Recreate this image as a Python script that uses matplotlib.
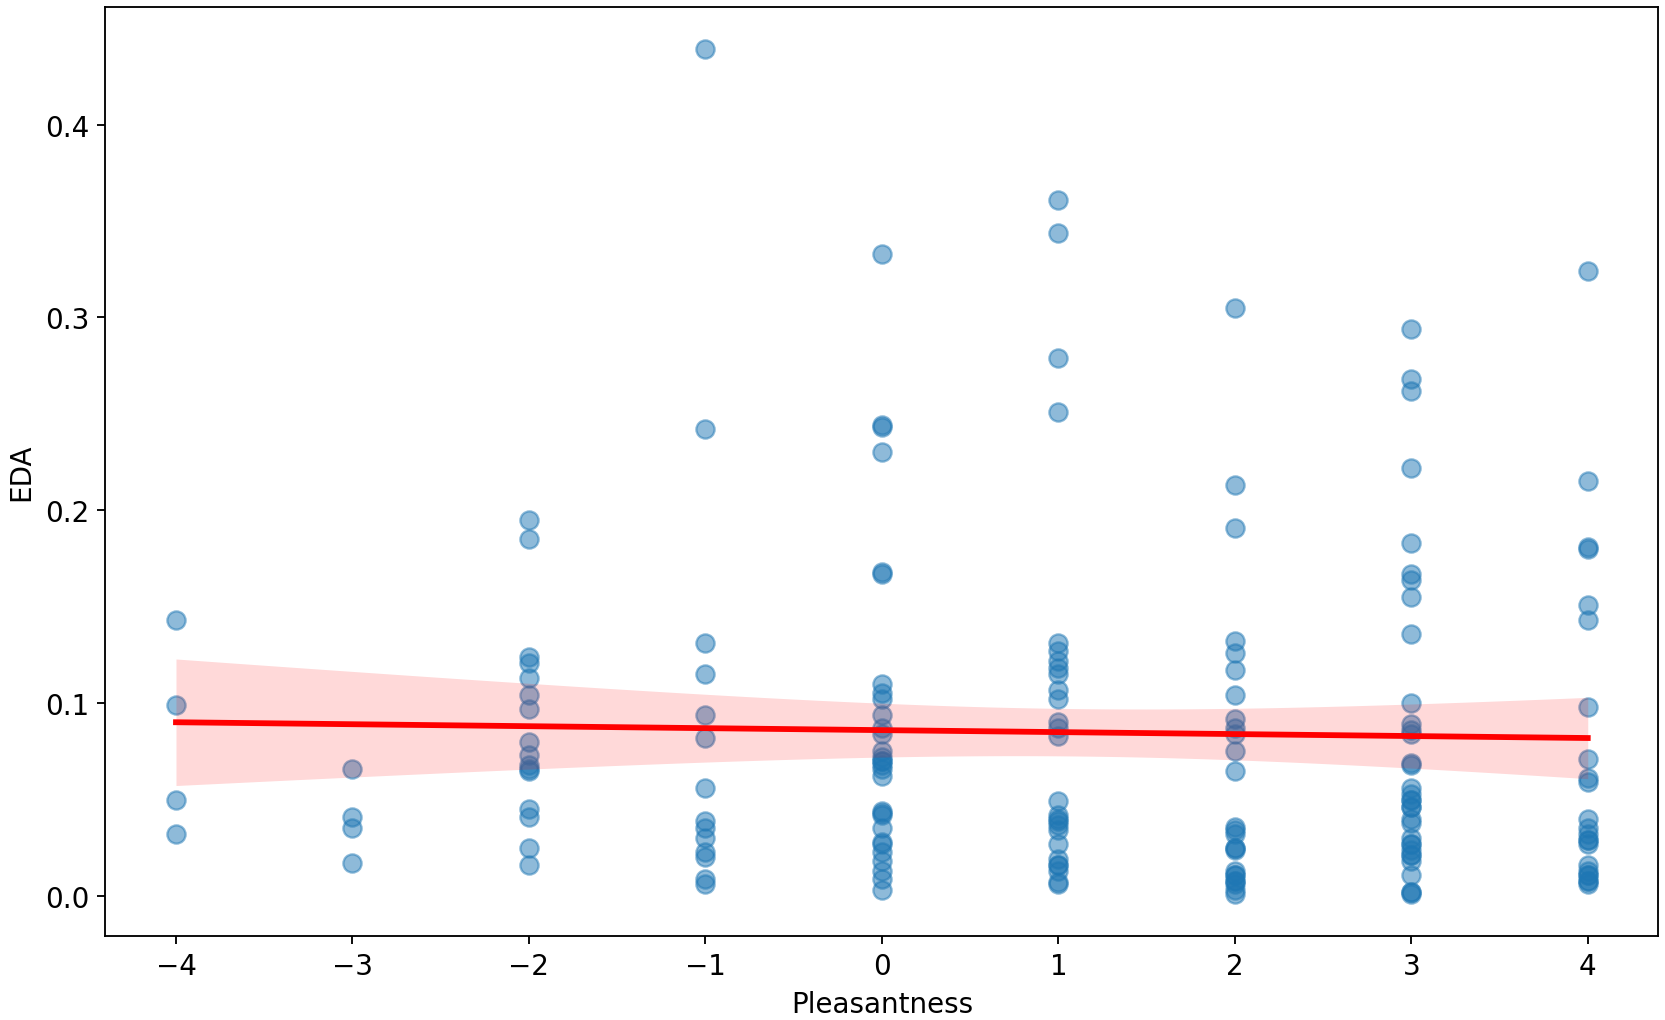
import numpy as np
import matplotlib.pyplot as plt

# nilai EDA per skor pleasantness (titik gelap = tumpang tindih)
eda_m4 = [0.143, 0.099, 0.050, 0.032]
eda_m3 = [0.066, 0.041, 0.035, 0.017]
eda_m2 = [0.195, 0.185, 0.124, 0.121, 0.113, 0.104, 0.097, 0.080, 0.073, 0.068,
          0.066, 0.065, 0.045, 0.041, 0.025, 0.016]
eda_m1 = [0.439, 0.242, 0.131, 0.115, 0.094, 0.082, 0.056, 0.039, 0.035, 0.030,
          0.023, 0.020, 0.009, 0.006]
eda_0 = [0.333, 0.244, 0.243, 0.230, 0.168, 0.167, 0.110, 0.105, 0.102, 0.094,
         0.087, 0.084, 0.075, 0.072, 0.070, 0.068, 0.066, 0.062, 0.044, 0.042,
         0.035, 0.028, 0.027, 0.023, 0.018, 0.013, 0.009, 0.003, 0.043, 0.070]
eda_1 = [0.361, 0.344, 0.279, 0.251, 0.131, 0.127, 0.122, 0.118, 0.115, 0.107,
         0.102, 0.090, 0.087, 0.083, 0.049, 0.042, 0.039, 0.037, 0.034, 0.027,
         0.019, 0.016, 0.013, 0.007, 0.006, 0.016, 0.040]
eda_2 = [0.305, 0.213, 0.191, 0.132, 0.126, 0.117, 0.104, 0.092, 0.087, 0.084,
         0.075, 0.065, 0.036, 0.034, 0.032, 0.025, 0.024, 0.013, 0.011, 0.008,
         0.006, 0.003, 0.001, 0.025, 0.011, 0.008]
eda_3 = [0.294, 0.268, 0.262, 0.222, 0.183, 0.167, 0.164, 0.155, 0.136, 0.100,
         0.089, 0.086, 0.084, 0.069, 0.068, 0.056, 0.053, 0.050, 0.046, 0.040,
         0.038, 0.030, 0.027, 0.024, 0.021, 0.018, 0.011, 0.002, 0.001,
         0.050, 0.046, 0.027, 0.021, 0.002]
eda_4 = [0.324, 0.215, 0.181, 0.180, 0.151, 0.143, 0.098, 0.071, 0.061, 0.059,
         0.040, 0.035, 0.032, 0.029, 0.027, 0.016, 0.013, 0.011, 0.008, 0.006,
         0.011, 0.008, 0.029]

scores = [-4, -3, -2, -1, 0, 1, 2, 3, 4]
groups = [eda_m4, eda_m3, eda_m2, eda_m1, eda_0, eda_1, eda_2, eda_3, eda_4]

x = np.concatenate([[s] * len(g) for s, g in zip(scores, groups)]).astype(float)
y = np.concatenate(groups)

# regresi linear + interval kepercayaan 95%
slope, intercept = np.polyfit(x, y, 1)
n = len(x)
resid = y - (slope * x + intercept)
s_err = np.sqrt(np.sum(resid ** 2) / (n - 2))
xg = np.linspace(x.min(), x.max(), 100)
yg = slope * xg + intercept
se = s_err * np.sqrt(1 / n + (xg - x.mean()) ** 2 / np.sum((x - x.mean()) ** 2))
ci = 1.97 * se

plt.rcParams['font.size'] = 12
fig = plt.figure(figsize=(10, 6.132), dpi=166.5)
ax = fig.add_axes([0.0633, 0.082, 0.9327, 0.91])
ax.scatter(x, y, s=62, color='#1f77b4', alpha=0.5)
ax.fill_between(xg, yg - ci, yg + ci, color='red', alpha=0.15, linewidth=0)
ax.plot(xg, yg, color='red', linewidth=2.5)
ax.set_xlabel('Pleasantness')
ax.set_ylabel('EDA')
fig.savefig('out.png', dpi=166.5)
